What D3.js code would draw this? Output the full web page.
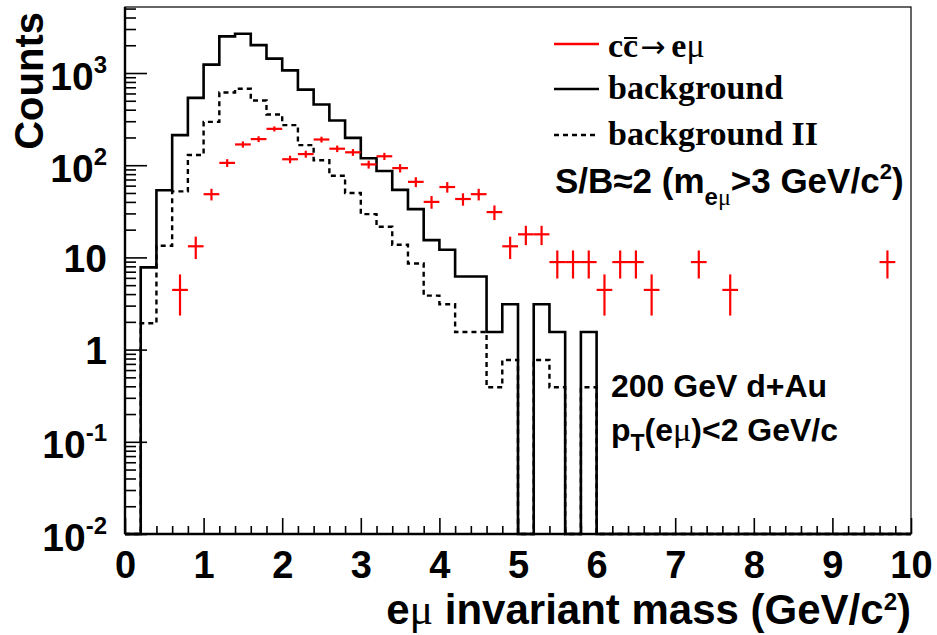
<!DOCTYPE html>
<html><head><meta charset="utf-8">
<script src="https://cdn.jsdelivr.net/npm/d3@7"></script>
<style>body{margin:0;background:#fff}svg{display:block}</style>
</head><body>
<svg id="c" width="937" height="635"></svg>
<script>
// ---------------- data ----------------
const binWidth = 0.2;
const bgCounts = [0,7.8,53.6,212,537,1233,2494,2667,2009,1433,1069,661,455,305,198,119,86.5,54,33.4,15.4,
  12.1,6.2,6.2,1.55,3.1,0,3.1,1.55,0,1.55,
  0,0,0,0,0,0,0,0,0,0,0,0,0,0,0,0,0,0,0,0];
const bg2Counts = [0,1.93,13.4,52,129,295,615,675,503,355,272,165,113,77,50,29.5,21.5,13.7,8.6,3.85,
  3.1,1.55,1.55,0.39,0.77,0,0.77,0.39,0,0.39,
  0,0,0,0,0,0,0,0,0,0,0,0,0,0,0,0,0,0,0,0];
const sigX   = [0.7,0.9,1.1,1.3,1.5,1.7,1.9,2.1,2.3,2.5,2.7,2.9,3.1,3.3,3.5,3.7,3.9,4.1,4.3,4.5,4.7,4.9,5.1,5.3,5.5,5.7,5.9,6.1,6.3,6.5,6.7,7.3,7.7,9.7];
const sigY   = [4.44,13.2,48.5,106,168,192,248,116,132,190,151,138,102,125,93,66,40,58,43,48.5,31,13.2,17.8,17.8,8.9,8.9,8.9,4.44,8.9,8.9,4.44,8.9,4.44,8.9];
const sigErr = [2.1,3.6,7,10.3,13,13.9,15.7,10.8,11.5,13.8,12.3,11.7,10.1,11.2,9.6,8.1,6.3,7.6,6.6,7,5.6,3.6,4.2,4.2,3,3,3,2.1,3,3,2.1,3,2.1,3];
const xTicks = [0,1,2,3,4,5,6,7,8,9,10];
const xTickLabels = ["0","1","2","3","4","5","6","7","8","9","10"];
const yMajorTicks = [0.01,0.1,1,10,100,1000];
const yTickBase = ["10","10","1","10","10","10"];
const yTickExp  = ["-2","-1","","","2","3"];
const legendLabels = ["background","background II"];

// ---------------- layout ----------------
const SANS = "'Liberation Sans', Arial, Helvetica, sans-serif";
const SERIF = "'Liberation Serif', 'Times New Roman', serif";
const L = 125, R = 911, T = 7, B = 534;
const svg = d3.select("#c");
const x = d3.scaleLinear().domain([0,10]).range([L,R]);
const y = d3.scaleLog().domain([0.01,5200]).range([B,T]);

// histograms
function stepPath(counts){
  const pts = [];
  counts.forEach((c,i)=>{
    const yy = c>0 ? y(c) : B;
    pts.push([x(i*binWidth), yy],[x((i+1)*binWidth), yy]);
  });
  return d3.line()(pts);
}
svg.append("path").attr("d", stepPath(bg2Counts)).attr("fill","none")
  .attr("stroke","#000").attr("stroke-width",2.4).attr("stroke-dasharray","5,4");
svg.append("path").attr("d", stepPath(bgCounts)).attr("fill","none")
  .attr("stroke","#000").attr("stroke-width",2.6);

// signal points
const sig = svg.append("g").attr("stroke","#ff0000").attr("stroke-width",2.2);
sigX.forEach((cx,i)=>{
  sig.append("line").attr("x1",x(cx-binWidth/2)).attr("x2",x(cx+binWidth/2))
     .attr("y1",y(sigY[i])).attr("y2",y(sigY[i]));
  sig.append("line").attr("x1",x(cx)).attr("x2",x(cx))
     .attr("y1",y(sigY[i]+sigErr[i])).attr("y2",y(Math.max(sigY[i]-sigErr[i],0.011)));
});

// frame
svg.append("rect").attr("x",L).attr("y",T).attr("width",R-L).attr("height",B-T)
  .attr("fill","none").attr("stroke","#000").attr("stroke-width",1.2);

// x axis
const xMinor = d3.range(0,10.0001,binWidth).filter(v=>Math.abs(v-Math.round(v))>1e-6);
const gxm = svg.append("g").attr("transform",`translate(0,${B})`)
  .call(d3.axisBottom(x).tickValues(xMinor).tickSizeInner(-8).tickSizeOuter(0).tickFormat(""));
const gx = svg.append("g").attr("transform",`translate(0,${B})`)
  .call(d3.axisBottom(x).tickValues(xTicks).tickSizeInner(-16).tickSizeOuter(0).tickPadding(17)
    .tickFormat((d,i)=>xTickLabels[i]));
[gxm,gx].forEach(g=>{g.select(".domain").remove(); g.selectAll("line").attr("stroke-width",1.6);});
gx.selectAll("text").attr("font-family",SANS).attr("font-weight","bold").attr("font-size",38).attr("fill","#000");

// y axis
const yMinor = [];
yMajorTicks.slice(0,5).forEach(m=>{ for(let k=2;k<=9;k++) yMinor.push(m*k); });
[2000,3000,4000,5000].forEach(v=>yMinor.push(v));
const gym = svg.append("g").attr("transform",`translate(${L},0)`)
  .call(d3.axisLeft(y).tickValues(yMinor).tickSizeInner(-11).tickSizeOuter(0).tickFormat(""));
const gy = svg.append("g").attr("transform",`translate(${L},0)`)
  .call(d3.axisLeft(y).tickValues(yMajorTicks).tickSizeInner(-22).tickSizeOuter(0).tickFormat(""));
[gym,gy].forEach(g=>{g.select(".domain").remove(); g.selectAll("line").attr("stroke-width",1.6);});
gy.selectAll(".tick").each(function(d,i){
  const t = d3.select(this).append("text").attr("x",-18).attr("y", yTickExp[i] ? 16 : 14)
    .attr("text-anchor","end").attr("font-family",SANS).attr("font-weight","bold")
    .attr("font-size",39).attr("fill","#000");
  t.append("tspan").text(yTickBase[i]);
  if (yTickExp[i]) t.append("tspan").attr("dy",-17).attr("font-size",24).text(yTickExp[i]);
});

// thick left & bottom axis lines
svg.append("line").attr("x1",L).attr("x2",L).attr("y1",T).attr("y2",B).attr("stroke","#000").attr("stroke-width",2.4);
svg.append("line").attr("x1",L).attr("x2",R).attr("y1",B).attr("y2",B).attr("stroke","#000").attr("stroke-width",2.4);

// axis titles
svg.append("text").attr("transform","translate(43,12) rotate(-90)").attr("text-anchor","end")
  .attr("font-family",SANS).attr("font-weight","bold").attr("font-size",40).text("Counts");
const xt = svg.append("text").attr("x",911).attr("y",624).attr("text-anchor","end")
  .attr("font-family",SANS).attr("font-weight","bold").attr("font-size",42);
xt.append("tspan").text("e");
xt.append("tspan").attr("font-family",SERIF).attr("font-weight","normal").attr("font-size",44).text("μ");
xt.append("tspan").text(" invariant mass (GeV/c");
xt.append("tspan").attr("dy",-14).attr("font-size",24).text("2");
xt.append("tspan").attr("dy",14).text(")");

// legend
const legY = [44, 89, 135];
svg.append("line").attr("x1",554).attr("x2",599).attr("y1",legY[0]).attr("y2",legY[0]).attr("stroke","#ff0000").attr("stroke-width",2.4);
svg.append("line").attr("x1",554).attr("x2",599).attr("y1",legY[1]).attr("y2",legY[1]).attr("stroke","#000").attr("stroke-width",2.6);
svg.append("line").attr("x1",554).attr("x2",599).attr("y1",legY[2]).attr("y2",legY[2]).attr("stroke","#000").attr("stroke-width",2.4).attr("stroke-dasharray","5,4");
const l1 = svg.append("text").attr("x",608).attr("y",legY[0]+13).attr("font-family",SERIF).attr("font-weight","bold").attr("font-size",34);
l1.append("tspan").text("cc");
l1.append("tspan").attr("font-family","'DejaVu Sans', sans-serif").attr("font-weight","normal").attr("font-size",30).attr("dx",2).text("→");
l1.append("tspan").attr("dx",6).text("e");
l1.append("tspan").attr("font-weight","normal").text("μ");
// overline on the second c (anti-quark bar), from the text layout
{
  const n = l1.node();
  const s = n.getStartPositionOfChar(1), w = n.getSubStringLength(1,1);
  svg.append("line").attr("x1",s.x+1).attr("x2",s.x+w-1)
    .attr("y1",legY[0]-6).attr("y2",legY[0]-6).attr("stroke","#000").attr("stroke-width",2);
}
legendLabels.forEach((lab,i)=>{
  svg.append("text").attr("x",608).attr("y",legY[i+1]+10).attr("font-family",SERIF).attr("font-weight","bold")
    .attr("font-size",34).text(lab);
});

// S/B annotation
const sb = svg.append("text").attr("x",555).attr("y",193).attr("font-family",SANS).attr("font-weight","bold").attr("font-size",35);
sb.append("tspan").text("S/B≈2 (m");
sb.append("tspan").attr("dy",12).attr("font-size",24).text("e");
sb.append("tspan").attr("font-size",24).attr("font-family",SERIF).attr("font-weight","normal").text("μ");
sb.append("tspan").attr("dy",-12).text(">3 GeV/c");
sb.append("tspan").attr("dy",-14).attr("font-size",22).text("2");
sb.append("tspan").attr("dy",14).text(")");

// collision annotation
svg.append("text").attr("x",611).attr("y",397).attr("font-family",SANS).attr("font-weight","bold").attr("font-size",32).text("200 GeV d+Au");
const pt = svg.append("text").attr("x",611).attr("y",441).attr("font-family",SANS).attr("font-weight","bold").attr("font-size",32);
pt.append("tspan").text("p");
pt.append("tspan").attr("dy",10).attr("font-size",23).text("T");
pt.append("tspan").attr("dy",-10).text("(e");
pt.append("tspan").attr("font-family",SERIF).attr("font-weight","normal").attr("font-size",34).text("μ");
pt.append("tspan").text(")<2 GeV/c");
</script>
</body></html>
